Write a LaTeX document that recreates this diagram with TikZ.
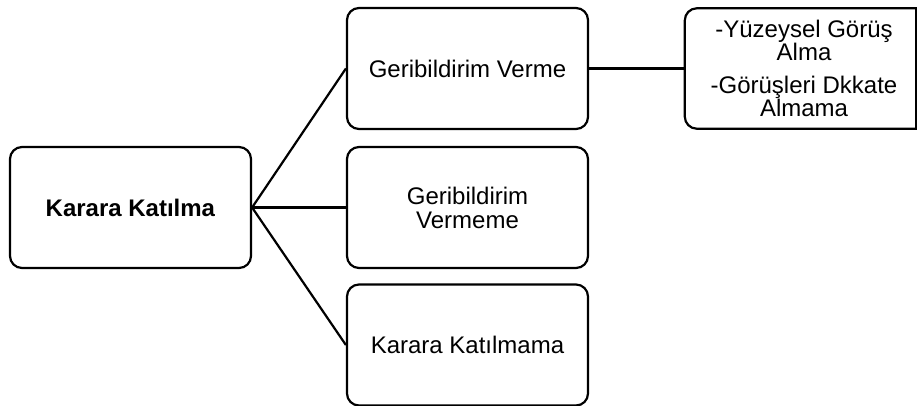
\documentclass[tikz,border=0pt]{standalone}
\usepackage{fontspec}
\setmainfont{Liberation Sans}
\usetikzlibrary{calc}
\begin{document}
\begin{tikzpicture}[x=1pt,y=-1pt,
  box/.style={draw, line width=2.2pt, rounded corners=12pt,
    minimum width=241pt, minimum height=121pt, inner sep=0pt,
    align=center, font=\fontsize{24}{24}\selectfont},
  note/.style={minimum width=238pt, minimum height=120pt, inner sep=0pt,
    align=center, font=\fontsize{24}{23}\selectfont},
  link/.style={line width=2.2pt}]
\useasboundingbox (0,0) rectangle (917,405);

% main decision and its three outcomes
\node[box] (root) at (130.5,207.5) {\textbf{Karara Katılma}};
\node[box] (give) at (467.5,68.5) {Geribildirim Verme};
\node[box] (nogive) at (467.5,207.5) {Geribildirim\\Vermeme};
\node[box] (nojoin) at (467.5,345) {Karara Katılmama};

% detail box, cut off at the right margin
\node[note] (detail) at (804,68.5) {-Yüzeysel Görüş\\Alma\\[10pt]-Görüşleri Dkkate\\Almama};
\draw[line width=2.2pt]
  ($(detail.north east)+(-7,0)$) [rounded corners=12pt] -- (detail.north west)
  -- (detail.south west) [sharp corners] -- ($(detail.south east)+(-7,0)$) -- cycle;

% connectors
\draw[link] (root.east) -- (give.west);
\draw[link] (root.east) -- (nogive.west);
\draw[link] (root.east) -- (nojoin.west);
\draw[link] (give.east) -- (detail.west);
\end{tikzpicture}
\end{document}
